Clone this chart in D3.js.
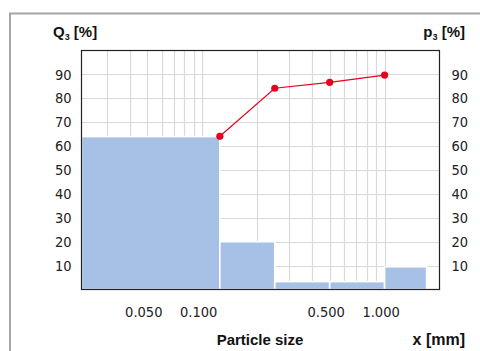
<!DOCTYPE html>
<html>
<head>
<meta charset="utf-8">
<script src="https://cdn.jsdelivr.net/npm/d3@7"></script>
<style>
  body { margin: 0; background: #fff; }
  svg { display: block; }
  .tick text { font-family: "DejaVu Sans Condensed", "Open Sans", sans-serif; font-size: 14.5px; fill: #222; }
  .title { font-family: "Liberation Sans", Arial, sans-serif; font-weight: bold; font-size: 15px; fill: #111; }
</style>
</head>
<body>
<svg width="480" height="351"></svg>
<script>
// size classes (mm) and fractions p3 (%)
const binEdges = [0.0218, 0.125, 0.25, 0.5, 1.0, 1.7];
const p3Values = [64, 20, 3.3, 3.3, 9.5];
// cumulative Q3 (%)
const q3Sizes = [0.125, 0.25, 0.5, 1.0];
const q3Values = [64.1, 84.2, 86.7, 89.7];
const yTicks = [10, 20, 30, 40, 50, 60, 70, 80, 90];
const xTickLabels = [0.05, 0.1, 0.5, 1.0];

const svg = d3.select('svg');
const plotLeft = 81.5, plotRight = 439.5, plotTop = 50.5, plotBottom = 289.5;

// outer frame
svg.append('path')
  .attr('d', 'M10,351V13.5H480')
  .attr('fill', 'none')
  .attr('stroke', '#a6a6a6')
  .attr('stroke-width', 2);

const x = d3.scaleLog().domain([0.0218, 2]).range([plotLeft, plotRight]);
const y = d3.scaleLinear().domain([0, 100]).range([plotBottom, plotTop]);

// grid
svg.append('g').selectAll('line')
  .data(yTicks)
  .join('line')
  .attr('x1', plotLeft).attr('x2', plotRight)
  .attr('y1', d => Math.round(y(d)) + 0.5).attr('y2', d => Math.round(y(d)) + 0.5)
  .attr('stroke', '#d9d9d9').attr('stroke-width', 1.2);

svg.append('g').selectAll('line')
  .data(x.ticks().filter(d => d < 1.9))
  .join('line')
  .attr('x1', d => Math.round(x(d)) + 0.5).attr('x2', d => Math.round(x(d)) + 0.5)
  .attr('y1', plotTop).attr('y2', plotBottom)
  .attr('stroke', '#d9d9d9').attr('stroke-width', 1.2);

// p3 bars
svg.append('g').selectAll('rect')
  .data(p3Values)
  .join('rect')
  .attr('x', (d, i) => x(binEdges[i]))
  .attr('width', (d, i) => x(binEdges[i + 1]) - x(binEdges[i]))
  .attr('y', d => y(d))
  .attr('height', d => y(0) - y(d))
  .attr('fill', '#a7c1e6')
  .attr('stroke', '#fff')
  .attr('stroke-width', 1.6);

// plot frame
svg.append('rect')
  .attr('x', plotLeft).attr('y', plotTop)
  .attr('width', plotRight - plotLeft).attr('height', plotBottom - plotTop)
  .attr('fill', 'none')
  .attr('stroke', '#222')
  .attr('stroke-width', 1.2);

// Q3 line
const q3 = q3Sizes.map((s, i) => [s, q3Values[i]]);
svg.append('path')
  .datum(q3)
  .attr('d', d3.line().x(d => x(d[0])).y(d => y(d[1])))
  .attr('fill', 'none')
  .attr('stroke', '#e8001e')
  .attr('stroke-width', 1.2);

svg.append('g').selectAll('circle')
  .data(q3)
  .join('circle')
  .attr('cx', d => x(d[0]))
  .attr('cy', d => y(d[1]))
  .attr('r', 3.6)
  .attr('fill', '#e8001e');

// axes (labels only)
const yLeft = svg.append('g')
  .attr('transform', `translate(${plotLeft},0)`)
  .call(d3.axisLeft(y).tickValues(yTicks).tickSize(0).tickPadding(10));
yLeft.select('.domain').remove();

const yRight = svg.append('g')
  .attr('transform', `translate(${plotRight},0)`)
  .call(d3.axisRight(y).tickValues(yTicks).tickSize(0).tickPadding(12));
yRight.select('.domain').remove();

const xAxis = svg.append('g')
  .attr('transform', `translate(-4,${plotBottom})`)
  .call(d3.axisBottom(x).tickValues(xTickLabels).tickFormat(d3.format('.3f')).tickSize(0).tickPadding(17));
xAxis.select('.domain').remove();

// titles
const q3Title = svg.append('text').attr('class', 'title').attr('x', 53).attr('y', 37).attr('font-size', 16);
q3Title.append('tspan').text('Q');
q3Title.append('tspan').attr('dy', 3).attr('font-size', 9).text('3');
q3Title.append('tspan').attr('dy', -3).text(' [%]');

const p3Title = svg.append('text').attr('class', 'title').attr('x', 465).attr('y', 37).attr('text-anchor', 'end');
p3Title.append('tspan').text('p');
p3Title.append('tspan').attr('dy', 3).attr('font-size', 9).text('3');
p3Title.append('tspan').attr('dy', -3).text(' [%]');

svg.append('text').attr('class', 'title')
  .attr('x', 260).attr('y', 345).attr('text-anchor', 'middle')
  .text('Particle size');

svg.append('text').attr('class', 'title')
  .attr('x', 465).attr('y', 345).attr('text-anchor', 'end')
  .style('font-size', '16px')
  .text('x [mm]');
</script>
</body>
</html>
